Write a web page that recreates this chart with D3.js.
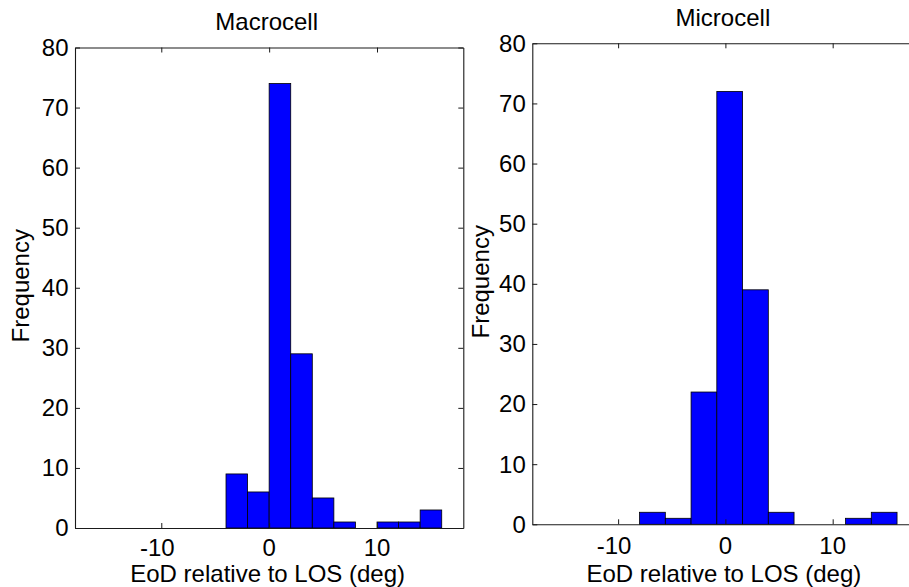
<!DOCTYPE html>
<html>
<head>
<meta charset="utf-8">
<script src="https://cdn.jsdelivr.net/npm/d3@7"></script>
<style>
  html, body { margin: 0; padding: 0; background: #fff; }
  svg { display: block; }
  text { font-family: "Liberation Sans", Arial, sans-serif; fill: #000; }
</style>
</head>
<body>
<svg id="chart" width="909" height="587"></svg>
<script>
// Histogram of EoD relative to LOS, two environments
const macroCenters = [-3, -1, 1, 3, 5, 7, 9, 11, 13, 15];
const macroCounts  = [9, 6, 74, 29, 5, 1, 0, 1, 1, 3];
const macroBinWidth = 2;

const microCenters = [-6.8, -4.4, -2.0, 0.4, 2.8, 5.2, 7.6, 10.0, 12.4, 14.8];
const microCounts  = [2, 1, 22, 72, 39, 2, 0, 0, 1, 2];
const microBinWidth = 2.4;

const xTicks = [-10, 0, 10];
const yTicks = [0, 10, 20, 30, 40, 50, 60, 70, 80];
const xDomain = [-18, 18];
const yDomain = [0, 80];

const titles = ["Macrocell", "Microcell"];
const xLabel = "EoD relative to LOS (deg)";
const yLabel = "Frequency";

const panels = [
  { title: titles[0], centers: macroCenters, counts: macroCounts, width: macroBinWidth,
    left: 75, right: 463.3, top: 47.5, bottom: 528,
    titleY: 30, titleDx: -2.5, yLabX: 28.5, yLabDy: -2, tickLabY: 555.5, xLabY: 581.5 },
  { title: titles[1], centers: microCenters, counts: microCounts, width: microBinWidth,
    left: 532.3, right: 918.5, top: 43.3, bottom: 524.3,
    titleY: 26, titleDx: -2.5, yLabX: 489, yLabDy: -2, tickLabY: 553.5, xLabY: 581.5 }
];

const svg = d3.select("#chart");
const FS = 24;
const TICK = 5;
const axisColor = "#1a1a1a";

panels.forEach(p => {
  const x = d3.scaleLinear().domain(xDomain).range([p.left, p.right]);
  const y = d3.scaleLinear().domain(yDomain).range([p.bottom, p.top]);
  const g = svg.append("g");

  // bars
  g.selectAll("rect.bar")
    .data(p.centers.map((c, i) => ({ c, n: p.counts[i] })).filter(d => d.n > 0))
    .join("rect")
    .attr("class", "bar")
    .attr("x", d => x(d.c - p.width / 2))
    .attr("width", d => x(d.c + p.width / 2) - x(d.c - p.width / 2))
    .attr("y", d => y(d.n))
    .attr("height", d => y(0) - y(d.n))
    .attr("fill", "#0000ff")
    .attr("stroke", "#000")
    .attr("stroke-width", 0.8);

  // axes: inward ticks on all four sides
  const bottomAxis = d3.axisBottom(x).tickValues(xTicks).tickSize(-TICK).tickFormat("");
  const topAxis = d3.axisTop(x).tickValues(xTicks).tickSize(-TICK).tickFormat("");
  const leftAxis = d3.axisLeft(y).tickValues(yTicks).tickSize(-TICK).tickFormat("");
  const rightAxis = d3.axisRight(y).tickValues(yTicks).tickSize(-TICK).tickFormat("");

  [[bottomAxis, `translate(0,${p.bottom})`],
   [topAxis, `translate(0,${p.top})`],
   [leftAxis, `translate(${p.left},0)`],
   [rightAxis, `translate(${p.right},0)`]].forEach(([ax, tr]) => {
    const a = g.append("g").attr("transform", tr).call(ax.tickSizeOuter(0));
    a.select(".domain").attr("stroke", axisColor).attr("stroke-width", 1.1);
    a.selectAll(".tick line").attr("stroke", axisColor).attr("stroke-width", 1);
  });

  // tick labels: x labels centred on the digits, the minus sign hangs left
  g.selectAll("text.xt")
    .data(xTicks)
    .join("text")
    .attr("class", "xt")
    .attr("x", d => x(d) - (d < 0 ? 4 : 0))
    .attr("y", p.tickLabY)
    .attr("text-anchor", "middle")
    .attr("font-size", FS)
    .text(d => d);

  g.selectAll("text.yt")
    .data(yTicks)
    .join("text")
    .attr("class", "yt")
    .attr("x", p.left - 6.5)
    .attr("y", d => y(d))
    .attr("dy", "0.35em")
    .attr("text-anchor", "end")
    .attr("font-size", FS)
    .text(d => d);

  // title
  g.append("text")
    .attr("x", (p.left + p.right) / 2 + p.titleDx)
    .attr("y", p.titleY)
    .attr("text-anchor", "middle")
    .attr("font-size", FS)
    .text(p.title);

  // x label
  g.append("text")
    .attr("x", (p.left + p.right) / 2 - 1.5)
    .attr("y", p.xLabY)
    .attr("text-anchor", "middle")
    .attr("font-size", FS)
    .text(xLabel);

  // y label
  const cy = (p.top + p.bottom) / 2 + p.yLabDy;
  g.append("text")
    .attr("transform", `translate(${p.yLabX},${cy}) rotate(-90)`)
    .attr("text-anchor", "middle")
    .attr("font-size", FS)
    .text(yLabel);
});
</script>
</body>
</html>
